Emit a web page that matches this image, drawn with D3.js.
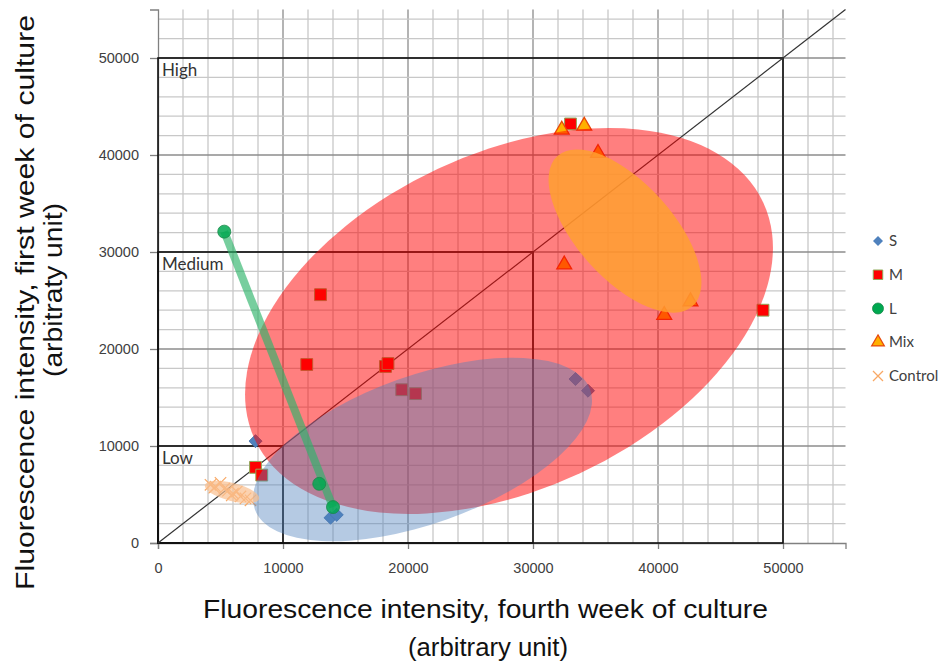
<!DOCTYPE html>
<html><head><meta charset="utf-8">
<script src="https://cdn.jsdelivr.net/npm/d3@7"></script>
<style>body{margin:0;background:#fff}</style>
</head><body><svg id="c" width="944" height="662"></svg>
<script>
// ---- data ----
const tickValues = [0, 10000, 20000, 30000, 40000, 50000];
const seriesNames = ["S", "M", "L", "Mix", "Control"];
const sX = [7800, 33400, 34400, 13800, 14300];
const sY = [10500, 16900, 15700, 2600, 2900];
const mX = [33000, 48400, 13000, 11900, 18200, 18400, 19500, 20600, 7800, 8300];
const mY = [43200, 24000, 25600, 18400, 18200, 18500, 15800, 15400, 7800, 7000];
const lX = [5300, 12900, 14000];
const lY = [32100, 6100, 3700];
const mixX = [32300, 34100, 35200, 32500, 40500, 42600];
const mixY = [42600, 43000, 40200, 28700, 23500, 24900];
const ctrlX = [4200, 4600, 5000, 5300, 5600, 6000, 6300, 6600, 7000, 7400, 4500, 5900];
const ctrlY = [6000, 5800, 6200, 5600, 5400, 5100, 5300, 4800, 4600, 4400, 5700, 4900];
const zoneNames = ["Low", "Medium", "High"];
const zoneLimits = [10000, 30000, 50000];
const ellNames = ["M", "Mix", "S", "Control"];
const ellCX = [28080, 37360, 21160, 5920];
const ellCY = [22890, 32160, 9640, 5260];
const ellRX = [22440, 8080, 14240, 2240];
const ellRY = [13440, 3840, 5920, 720];
const ellAngle = [-25, 48, -19.6, 14.5];
const xTitle = ["Fluorescence intensity, fourth week of culture", "(arbitrary unit)"];
const yTitle = ["Fluorescence intensity, first week of culture", "(arbitraty unit)"];

// ---- setup ----
const svg = d3.select("#c");
const x = d3.scaleLinear().domain([0, 55000]).range([158, 845.5]);
const y = d3.scaleLinear().domain([0, 55000]).range([543, 9.5]);
const len = v => x(v) - x(0);
const gridVals = d3.range(0, 54001, 2000);

// grid
const g = svg.append("g");
g.selectAll(".vg").data(gridVals.filter(v => v > 0)).join("line")
  .attr("x1", d => x(d)).attr("x2", d => x(d))
  .attr("y1", y(0)).attr("y2", y(55000))
  .attr("stroke", d => d % 10000 === 0 ? "#8c8c8c" : "#c8c8c8").attr("stroke-width", 1.3);
g.selectAll(".hg").data(gridVals.filter(v => v > 0)).join("line")
  .attr("y1", d => y(d)).attr("y2", d => y(d))
  .attr("x1", x(0)).attr("x2", x(55000))
  .attr("stroke", d => d % 10000 === 0 ? "#8c8c8c" : "#c8c8c8").attr("stroke-width", 1.3);

// axes
const yAxis = svg.append("g").attr("transform", `translate(${x(0)},0)`)
  .call(d3.axisLeft(y).tickValues(tickValues).tickSize(8).tickPadding(11).tickFormat(d3.format("d")));
const xAxis = svg.append("g").attr("transform", `translate(0,${y(0)})`)
  .call(d3.axisBottom(x).tickValues(tickValues).tickSize(6).tickPadding(14).tickFormat(d3.format("d")));
[yAxis, xAxis].forEach(a => {
  a.select(".domain").attr("stroke", "#808080").attr("stroke-width", 1.3);
  a.selectAll(".tick line").attr("stroke", "#808080").attr("stroke-width", 1.3);
  a.selectAll(".tick text").attr("font-family", "Liberation Sans, Arial, sans-serif")
    .attr("font-size", 14.5).attr("fill", "#404040");
});

// zone boxes
zoneLimits.forEach((lim, i) => {
  svg.append("rect").attr("x", x(0)).attr("y", y(lim))
    .attr("width", x(lim) - x(0)).attr("height", y(0) - y(lim))
    .attr("fill", "none").attr("stroke", "#111").attr("stroke-width", 1.6);
  svg.append("text").attr("x", x(0) + 4).attr("y", y(lim) + 18)
    .attr("font-family", "Lato, Carlito, sans-serif").attr("font-size", 17)
    .attr("fill", "#333").text(zoneNames[i]);
});

// diagonal
svg.append("line").attr("x1", x(0)).attr("y1", y(0)).attr("x2", x(55000)).attr("y2", y(55000))
  .attr("stroke", "#333").attr("stroke-width", 1.2);

// symbols
const crossType = { draw(ctx, size) { const r = Math.sqrt(size) / 2; ctx.moveTo(-r, -r); ctx.lineTo(r, r); ctx.moveTo(r, -r); ctx.lineTo(-r, r); } };
const pts = (xs, ys) => xs.map((v, i) => [v, ys[i]]);

// S diamonds
svg.append("g").selectAll("path").data(pts(sX, sY)).join("path")
  .attr("d", d3.symbol().type(d3.symbolSquare).size(85)())
  .attr("transform", d => `translate(${x(d[0])},${y(d[1])}) rotate(45)`)
  .attr("fill", "#4f81bd").attr("stroke", "#3d6ea8").attr("stroke-width", 0.8);
// M squares
svg.append("g").selectAll("path").data(pts(mX, mY)).join("path")
  .attr("d", d3.symbol().type(d3.symbolSquare).size(140)())
  .attr("transform", d => `translate(${x(d[0])},${y(d[1])})`)
  .attr("fill", "#ff0000").attr("stroke", "#8faa5a").attr("stroke-width", 1);
// Mix triangles
svg.append("g").selectAll("path").data(pts(mixX, mixY)).join("path")
  .attr("d", d3.symbol().type(d3.symbolTriangle).size(95)())
  .attr("transform", d => `translate(${x(d[0])},${y(d[1])})`)
  .attr("fill", "#ffb000").attr("stroke", "#e8480a").attr("stroke-width", 1.3);
// Control crosses
svg.append("g").selectAll("path").data(pts(ctrlX, ctrlY)).join("path")
  .attr("d", d3.symbol().type(crossType).size(130)())
  .attr("transform", d => `translate(${x(d[0])},${y(d[1])})`)
  .attr("fill", "none").attr("stroke", "#f8a865").attr("stroke-width", 1.2);

// ellipses
const ellFill = ["#ff0000", "#ffa030", "#4f81bd", "#fabf8f"];
const ellOp = [0.5, 0.85, 0.42, 0.7];
[0, 1, 2].forEach(i => {
  svg.append("ellipse")
    .attr("transform", `translate(${x(ellCX[i])},${y(ellCY[i])}) rotate(${ellAngle[i]})`)
    .attr("rx", len(ellRX[i])).attr("ry", len(ellRY[i]))
    .attr("fill", ellFill[i]).attr("fill-opacity", ellOp[i]);
});

// L: green line + circles
svg.append("path").datum(pts(lX, lY).filter((d, i) => i !== 1))
  .attr("d", d3.line().x(d => x(d[0])).y(d => y(d[1])))
  .attr("stroke", "#2eb36a").attr("stroke-opacity", 0.65).attr("stroke-width", 8).attr("fill", "none");
svg.append("g").selectAll("circle").data(pts(lX, lY)).join("circle")
  .attr("cx", d => x(d[0])).attr("cy", d => y(d[1])).attr("r", 6.5)
  .attr("fill", "#00a850").attr("fill-opacity", 0.85).attr("stroke", "#1a8a4a").attr("stroke-width", 0.8);

// control ellipse
{
  const i = 3;
  svg.append("ellipse")
    .attr("transform", `translate(${x(ellCX[i])},${y(ellCY[i])}) rotate(${ellAngle[i]})`)
    .attr("rx", len(ellRX[i])).attr("ry", len(ellRY[i]))
    .attr("fill", ellFill[i]).attr("fill-opacity", ellOp[i]);
}

// titles
const tf = "Liberation Sans, Arial, sans-serif";
svg.append("text").attr("x", 485.5).attr("y", 618).attr("text-anchor", "middle")
  .attr("font-family", tf).attr("font-size", 25).attr("fill", "#111")
  .attr("textLength", 565).attr("lengthAdjust", "spacingAndGlyphs").text(xTitle[0]);
svg.append("text").attr("x", 488).attr("y", 656).attr("text-anchor", "middle")
  .attr("font-family", tf).attr("font-size", 25).attr("fill", "#111")
  .attr("textLength", 160).attr("lengthAdjust", "spacingAndGlyphs").text(xTitle[1]);
svg.append("text").attr("transform", "translate(34,302.5) rotate(-90)").attr("text-anchor", "middle")
  .attr("font-family", tf).attr("font-size", 25).attr("fill", "#111")
  .attr("textLength", 575).attr("lengthAdjust", "spacingAndGlyphs").text(yTitle[0]);
svg.append("text").attr("transform", "translate(62,290) rotate(-90)").attr("text-anchor", "middle")
  .attr("font-family", tf).attr("font-size", 25).attr("fill", "#111")
  .attr("textLength", 174).attr("lengthAdjust", "spacingAndGlyphs").text(yTitle[1]);

// legend
const legY = d3.scalePoint().domain(seriesNames).range([241, 376]);
const lg = svg.append("g");
const legSym = {
  S: el => el.append("path").attr("d", d3.symbol().type(d3.symbolSquare).size(50)()).attr("transform", "rotate(45)").attr("fill", "#4f81bd"),
  M: el => el.append("path").attr("d", d3.symbol().type(d3.symbolSquare).size(90)()).attr("fill", "#ff0000").attr("stroke", "#8faa5a"),
  L: el => el.append("circle").attr("r", 5.5).attr("fill", "#00a850").attr("stroke", "#1a8a4a").attr("stroke-width", 0.8),
  Mix: el => el.append("path").attr("d", d3.symbol().type(d3.symbolTriangle).size(70)()).attr("fill", "#ffb000").attr("stroke", "#e8480a").attr("stroke-width", 1.2),
  Control: el => el.append("path").attr("d", d3.symbol().type(crossType).size(100)()).attr("fill", "none").attr("stroke", "#f8a865").attr("stroke-width", 1.3)
};
seriesNames.forEach(n => {
  const e = lg.append("g").attr("transform", `translate(878,${legY(n)})`);
  legSym[n](e);
  e.append("text").attr("x", 11).attr("y", 5).attr("font-family", "Lato, Carlito, sans-serif")
    .attr("font-size", 15).attr("fill", "#404040").text(n);
});
</script>
</body></html>
